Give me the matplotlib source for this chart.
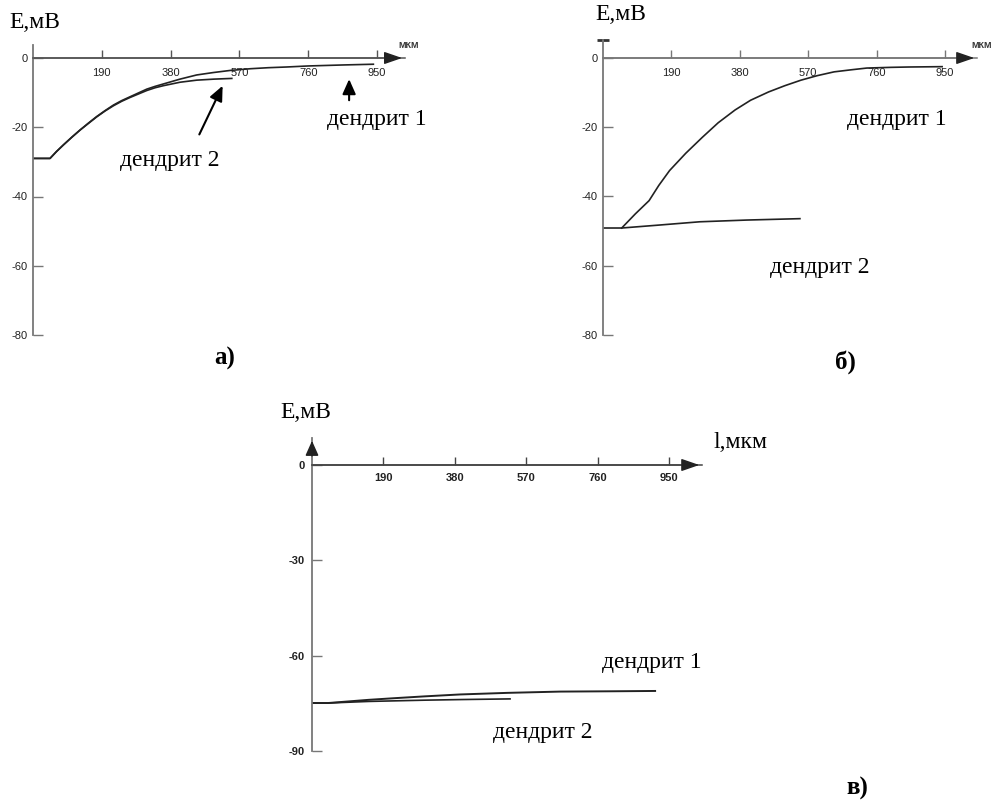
import matplotlib.pyplot as plt

# панель а)
a_x1 = [0, 47, 65, 84, 107, 130, 153, 176, 199, 222, 245, 268, 291, 314, 337, 360,
        383, 406, 429, 452, 498, 544, 600, 650, 700, 760, 860, 940]
a_y1 = [-29, -29, -27.0, -25.1, -22.9, -20.8, -18.8, -16.9, -15.2, -13.6, -12.3, -11.2,
        -10.1, -9.0, -8.2, -7.5, -6.8, -6.1, -5.5, -4.9, -4.2, -3.6, -3.1, -2.8, -2.6,
        -2.3, -2.0, -1.8]
a_x2 = [0, 47, 65, 84, 107, 130, 153, 176, 199, 222, 245, 268, 291, 314, 337, 360,
        383, 406, 429, 452, 500, 549]
a_y2 = [-29, -29, -27.0, -25.1, -22.9, -20.8, -18.9, -17.0, -15.3, -13.8, -12.5, -11.4,
        -10.4, -9.4, -8.6, -8.0, -7.5, -7.0, -6.7, -6.4, -6.1, -5.9]

# панель б)
b_x1 = [52, 90, 128, 155, 185, 230, 276, 320, 367, 410, 460, 505, 550, 595, 642, 690,
        733, 800, 850, 942]
b_y1 = [-49.1, -45.0, -41.2, -36.8, -32.5, -27.5, -22.9, -18.7, -15.0, -12.2, -9.8,
        -8.0, -6.4, -5.1, -4.0, -3.4, -2.9, -2.7, -2.6, -2.5]
b_x2 = [0, 52, 150, 269, 400, 547]
b_y2 = [-49.1, -49.1, -48.3, -47.3, -46.8, -46.4]

# панель в)
c_x1 = [0, 43, 150, 216, 300, 394, 520, 660, 800, 913]
c_y1 = [-74.9, -74.9, -73.9, -73.4, -72.8, -72.2, -71.7, -71.3, -71.2, -71.1]
c_x2 = [0, 43, 150, 300, 400, 527]
c_y2 = [-74.9, -74.9, -74.4, -74.0, -73.8, -73.6]

xticks = [190, 380, 570, 760, 950]
xtick_labels = ['190', '380', '570', '760', '950']
ab_yticks = [0, -20, -40, -60, -80]
c_yticks = [0, -30, -60, -90]

W, H = 1001, 807
fig = plt.figure(figsize=(W / 100, H / 100), dpi=100)

serif = 'Liberation Serif'
sans = 'Liberation Sans'
line_c = '#222222'
axis_c = '#777777'


def make_axes(x0, sx, xmax, y0, sy, ymin, ymax):
    left = x0 / W
    width = xmax * sx / W
    bottom = 1 - (y0 - ymin * sy) / H
    height = (ymax - ymin) * sy / H
    ax = fig.add_axes([left, bottom, width, height])
    ax.set_xlim(0, xmax)
    ax.set_ylim(ymin, ymax)
    ax.spines['top'].set_visible(False)
    ax.spines['right'].set_visible(False)
    ax.spines['bottom'].set_position(('data', 0))
    ax.patch.set_alpha(0)
    return ax


def style_axes(ax, yticks, bold, xpad, ypad, xcol):
    ax.spines['left'].set_color(axis_c)
    ax.spines['left'].set_linewidth(1.3)
    ax.spines['bottom'].set_color(xcol)
    ax.spines['bottom'].set_linewidth(1.1)
    ax.set_xticks(xticks)
    ax.set_xticklabels(xtick_labels)
    ax.set_yticks(yticks)
    ax.set_yticklabels([str(v) for v in yticks])
    w = 'bold' if bold else 'normal'
    ax.tick_params(axis='x', direction='in', length=6, width=1, color=xcol, pad=xpad)
    ax.tick_params(axis='y', direction='in', length=7, width=1, color=axis_c, pad=ypad)
    for lab in ax.get_xticklabels() + ax.get_yticklabels():
        lab.set_fontfamily(sans)
        lab.set_fontsize(8)
        lab.set_fontweight(w)
        lab.set_color('#222222')
    # стрелка оси x
    xmax = ax.get_xlim()[1]
    ax.annotate('', xy=(xmax, 0), xytext=(xmax - 60, 0),
                arrowprops=dict(arrowstyle='-|>,head_length=1.1,head_width=0.38',
                                color='#222222', lw=1.0), annotation_clip=False)
    ax.plot([0, xmax - 60], [0, 0], color=xcol, lw=1.1, clip_on=False)


# а)
ax1 = make_axes(33, 0.3621, 1027, 58, 3.4625, -80, 3.75)
style_axes(ax1, ab_yticks, False, 7, 4, '#555555')
ax1.plot(a_x1, a_y1, color=line_c, lw=1.2)
ax1.plot(a_x2, a_y2, color=line_c, lw=1.2)
ax1.annotate('', xy=(527, -7.3), xytext=(456, -22.8),
             arrowprops=dict(arrowstyle='-|>,head_length=0.9,head_width=0.4', color='black', lw=1.5))
ax1.annotate('', xy=(873, -5.3), xytext=(873, -13.0),
             arrowprops=dict(arrowstyle='-|>,head_length=0.9,head_width=0.4', color='black', lw=1.5))
ax1.text(378, -29.5, 'дендрит 2', family=serif, fontsize=17, ha='center', va='center')
ax1.text(950, -17.9, 'дендрит 1', family=serif, fontsize=17, ha='center', va='center')

# б)
ax2 = make_axes(603, 0.36, 1039, 58, 3.4625, -80, 5.2)
style_axes(ax2, ab_yticks, False, 7, 4, '#777777')
ax2.plot([0], [5.2], marker='_', markersize=9, mew=2, color='#333333', clip_on=False)
ax2.plot(b_x1, b_y1, color=line_c, lw=1.2)
ax2.plot(b_x2, b_y2, color=line_c, lw=1.2)
ax2.text(817, -17.9, 'дендрит 1', family=serif, fontsize=17, ha='center', va='center')
ax2.text(603, -60.4, 'дендрит 2', family=serif, fontsize=17, ha='center', va='center')

# в)
ax3 = make_axes(312, 0.3758, 1038, 465, 3.178, -90, 8.5)
style_axes(ax3, c_yticks, True, 6, 5, '#444444')
ax3.plot(c_x1, c_y1, color=line_c, lw=1.4)
ax3.plot(c_x2, c_y2, color=line_c, lw=1.2)
ax3.annotate('', xy=(0, 8.5), xytext=(0, 2),
             arrowprops=dict(arrowstyle='-|>,head_length=0.9,head_width=0.4',
                             color='#222222', lw=1.1), annotation_clip=False)
ax3.text(905, -62.0, 'дендрит 1', family=serif, fontsize=17, ha='center', va='center')
ax3.text(615, -84.3, 'дендрит 2', family=serif, fontsize=17, ha='center', va='center')

# подписи осей
fig.text(35 / W, 1 - 22 / H, 'E,мВ', family=serif, fontsize=17, ha='center', va='center')
fig.text(621 / W, 1 - 15 / H, 'E,мВ', family=serif, fontsize=17, ha='center', va='center')
fig.text(306 / W, 1 - 412 / H, 'E,мВ', family=serif, fontsize=17, ha='center', va='center')
fig.text(409 / W, 1 - 45 / H, 'МКМ', family=sans, fontsize=6.5, fontweight='bold',
         color='#333333', ha='center', va='center')
fig.text(982 / W, 1 - 45 / H, 'МКМ', family=sans, fontsize=6.5, fontweight='bold',
         color='#333333', ha='center', va='center')
fig.text(740 / W, 1 - 442 / H, 'l,мкм', family=serif, fontsize=17, ha='center', va='center')

# обозначения панелей
fig.text(225 / W, 1 - 358 / H, 'а)', family=serif, fontsize=18, fontweight='bold',
         ha='center', va='center')
fig.text(845 / W, 1 - 362 / H, 'б)', family=serif, fontsize=18, fontweight='bold',
         ha='center', va='center')
fig.text(857 / W, 1 - 788 / H, 'в)', family=serif, fontsize=18, fontweight='bold',
         ha='center', va='center')

fig.savefig('out.png', dpi=100)
